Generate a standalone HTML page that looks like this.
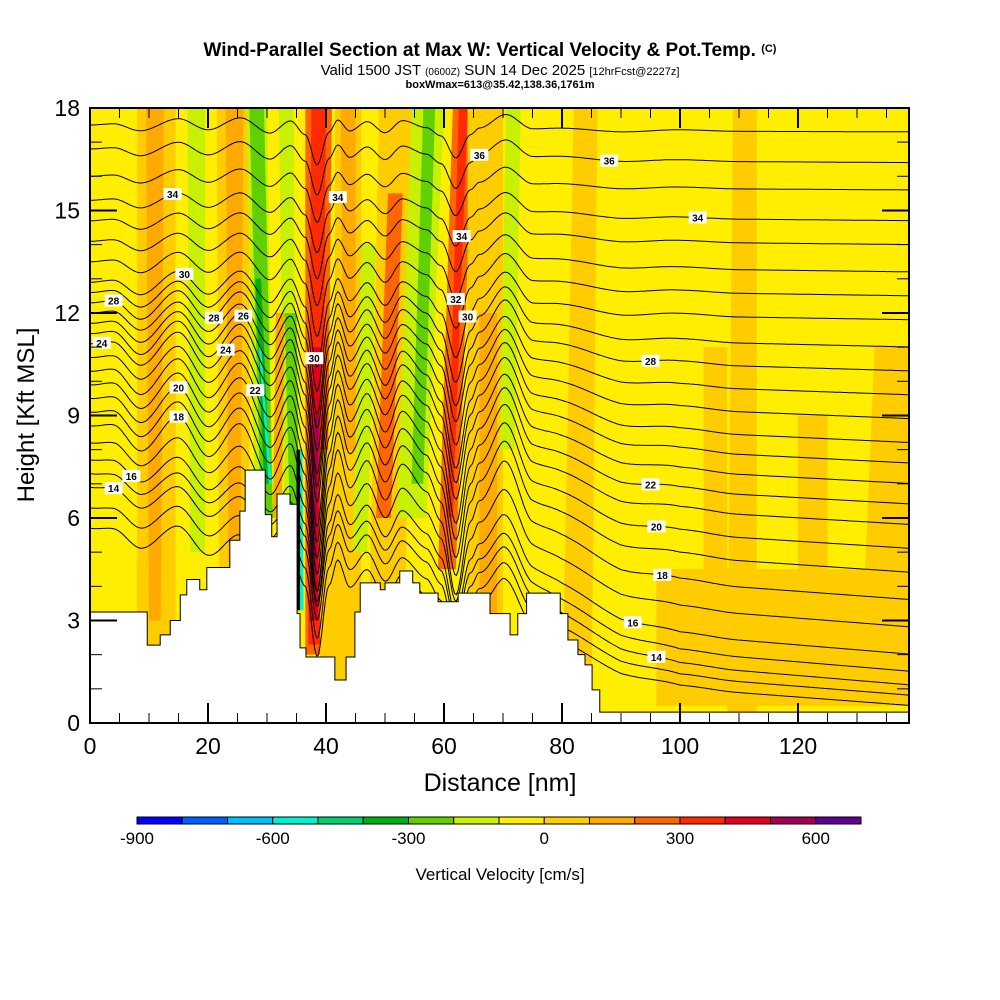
<!DOCTYPE html>
<html><head><meta charset="utf-8"><style>
body{margin:0;background:#fff;}
svg{display:block;font-family:"Liberation Sans",sans-serif;}
</style></head><body>
<svg id="chart" width="1000" height="1000" viewBox="0 0 1000 1000">
<rect width="1000" height="1000" fill="#fff"/>
<text x="490" y="56" text-anchor="middle" font-size="19" font-weight="bold">Wind-Parallel Section at Max W: Vertical Velocity &amp; Pot.Temp. <tspan font-size="11" dy="-4">(C)</tspan></text>
<text x="500" y="75" text-anchor="middle" font-size="15">Valid 1500 JST <tspan font-size="10">(0600Z)</tspan> SUN 14 Dec 2025 <tspan font-size="11">[12hrFcst@2227z]</tspan></text>
<text x="500" y="88" text-anchor="middle" font-size="11" font-weight="bold">boxWmax=613@35.42,138.36,1761m</text>
<defs><clipPath id="pc"><rect x="90" y="108" width="819" height="615"/></clipPath></defs>
<g id="plot" clip-path="url(#pc)">
<rect x="90" y="108" width="819" height="615" fill="#ffee00"/>
<g id="bands"></g><g id="contours"></g><g id="terrain"></g><g id="labels"></g>
</g>
<rect x="90" y="108" width="819" height="615" fill="none" stroke="#000" stroke-width="2"/>
<g id="axes"></g>
<text x="500" y="791" text-anchor="middle" font-size="25">Distance [nm]</text>
<text transform="translate(34,415) rotate(-90)" text-anchor="middle" font-size="24">Height [Kft MSL]</text>
<g id="cbar"></g>
<text x="500" y="880" text-anchor="middle" font-size="17">Vertical Velocity [cm/s]</text>
</svg>
<script>
// ---- data ----
const cbarColors=["#0000ff","#0060ff","#00c0ff","#00f0d0","#00d070","#00b010","#60d000","#c8f000","#ffee00","#ffcc00","#ffaa00","#ff6600","#ff2a00","#e00020","#a00050","#600090"];
const cbarTicks=[-900,-600,-300,0,300,600];
const xTicks=[0,20,40,60,80,100,120];
const yTicks=[0,3,6,9,12,15,18];
const terrX=[0,9.7,11.9,13.6,15.3,16.4,18.6,19.8,23.7,25.4,26.3,29.7,30.8,31.7,33.9,35.1,35.6,36.6,41.5,43.4,44.9,45.8,49.2,50,52.5,54.7,55.9,59,62.4,67.8,71.2,72.5,74,79.7,81,82.7,83.9,85.1,86.4,140];
const terrH=[3.25,2.28,2.58,3.0,3.75,4.2,3.9,4.55,5.35,6.2,7.4,6.1,5.45,6.7,6.4,3.2,2.2,1.93,1.26,1.93,3.25,4.1,3.9,4.1,4.45,4.1,3.8,3.55,3.8,3.2,2.58,3.2,3.8,3.2,2.43,2.0,1.7,0.97,0.32,0.32];
const bandX0t=[8,9.5,16.5,21.5,23,26.5,27,28,28.6,32,31.5,33,35,35.6,36.5,37.5,37.8,38,39,41.5,42.5,46,49,50.5,54.5,56.5,61.5,62.5,64,66,70.5,82,109,96,104,120,133];
const bandX1t=[14.5,12.5,19.5,27,26,30,29.5,29,29,34.5,33,35,35.6,36,41,40,39.2,38.8,44,46,45,48.5,55,53,60,58.5,65,64,70,69,73,86,113,139,108,125,139];
const bandX0b=[8,10,17,22,23.5,28,29,29.5,30.3,33,31,34,35,35.6,36.5,37,37.2,37.4,39,41.5,43,44.5,47,48.5,52,54.5,59,60.5,64,66,69.5,80,108,96,104,120,131];
const bandX1b=[14.5,12,19.5,27,25.5,31,31,30.5,30.8,35,32.5,35.5,35.6,36.2,40,39.2,38.6,38.1,44,46,45,47,53,51,57,56.5,62,61.5,70,69,72,85,113,139,108,125,139];
const bandBot=[0,3,5,0,4,6,6,7,7,5,6,5,3.3,3.3,2,2.3,3,4,0,0,8,5,0,6,6,7,4.5,6,0,3,8,0.3,0.3,0.5,4.5,4,3];
const bandTop=[18,18,18,18,18,18,18,13,11,18,12,12,8,8,18,18,11,9,8,18,18,14,18,15.5,18,18,18,18,18,12,18,18,18,4.5,11,9,11];
const bandVal=[50,150,-150,50,150,-150,-250,-350,-550,-150,150,-250,-1000,-550,250,350,450,550,50,50,150,-150,50,250,-150,-250,250,350,50,150,-150,50,50,50,50,50,50];
const levels=[12,13,14,15,16,17,18,19,20,21,22,23,24,25,26,27,28,29,30,31,32,33,34,35,36,37];
const leftH=[5.7,6.3,6.9,7.3,7.7,8.2,8.7,9.1,9.5,9.9,10.3,10.7,11.1,11.4,11.7,12.0,12.3,12.6,12.9,13.5,14.1,14.7,15.3,16.0,16.8,17.5];
const rightH=[0.5,0.8,1.1,1.5,2.0,2.8,3.6,4.4,5.1,5.8,6.4,7.0,7.6,8.2,8.9,9.6,10.3,11.0,11.8,12.5,13.2,14.0,14.7,15.6,16.4,17.3];
const ampL=[0.9,0.9,0.9,0.9,1.0,1.1,1.3,1.3,1.3,1.3,1.3,1.2,1.2,1.2,1.1,1.0,1.0,0.9,0.8,0.7,0.6,0.55,0.5,0.45,0.45,0.4];
const wNm=[0,20,40,60,70,80,90,100,140];
const wVal=[0,0.1,0.25,0.4,0.45,0.65,0.8,0.9,1];
const dNm=[0,4,8.5,15,20,25.5,30.5,34,36.5,38.5,40.5,42,44,47,50,53,57,59.5,62,64.5,66,70.5,75,80,90,100,110,140];
const dVal=[0,0.1,-0.4,0.5,-0.3,0.6,-0.5,0.4,-0.6,-2.8,-0.4,0.5,-0.3,0.4,-0.4,0.5,0,-0.6,-2.2,-0.5,0,1.0,0,0.1,-0.1,0.1,0,0];
const labNm=[14,16,4,2,21,26,15,15,7,4,23,28,38,42,62,64,63,66,88,92,96,97,96,95,95,103];
const labLev=[34,30,28,24,28,26,20,18,16,14,24,22,30,34,32,30,34,36,36,16,14,18,20,22,28,34];

// ---- scales ----
const X=n=>90+n*5.9, Y=k=>723-k*34.17;
const NS='http://www.w3.org/2000/svg';
function mk(t,a,p){const e=document.createElementNS(NS,t);for(const k in a)e.setAttribute(k,a[k]);p.appendChild(e);return e;}
function interp(xs,ys,x){if(x<=xs[0])return ys[0];for(let i=1;i<xs.length;i++){if(x<=xs[i]){const t=(x-xs[i-1])/(xs[i]-xs[i-1]);return ys[i-1]+t*(ys[i]-ys[i-1]);}}return ys[ys.length-1];}
function smooth(xs,ys,x){if(x<=xs[0])return ys[0];for(let i=1;i<xs.length;i++){if(x<=xs[i]){const t=(x-xs[i-1])/(xs[i]-xs[i-1]);const s=t*t*(3-2*t);return ys[i-1]+s*(ys[i]-ys[i-1]);}}return ys[ys.length-1];}
function colorOf(v){if(v<-900)return "#000";let i=Math.floor((v+900)/100);i=Math.max(0,Math.min(15,i));return cbarColors[i];}
function hOf(li,n){const w=interp(wNm,wVal,n);return leftH[li]*(1-w)+rightH[li]*w+ampL[li]*smooth(dNm,dVal,n);}

const gb=document.getElementById('bands');
bandVal.forEach((v,i)=>{
 const p=mk('polygon',{points:`${X(bandX0t[i])},${Y(bandTop[i])} ${X(bandX1t[i])},${Y(bandTop[i])} ${X(bandX1b[i])},${Y(bandBot[i])} ${X(bandX0b[i])},${Y(bandBot[i])}`,fill:colorOf(v)},gb);
 
 
});
const gc=document.getElementById('contours');
levels.forEach((L,li)=>{
 let pts=[];for(let n=0;n<=139;n+=0.3)pts.push(X(n).toFixed(1)+','+Y(hOf(li,n)).toFixed(1));
 const pl=mk('polyline',{points:pts.join(' '),fill:'none',stroke:'#000','stroke-width':1},gc);
 
 
});
const gt=document.getElementById('terrain');
let tp=[`${X(0)},730`];
for(let i=0;i<terrX.length-1;i++){tp.push(`${X(terrX[i])},${Y(terrH[i])}`);tp.push(`${X(terrX[i+1])},${Y(terrH[i])}`);}
tp.push(`${X(140)},730`);
const tr=mk('polygon',{points:tp.join(' '),fill:'#fff',stroke:'#000','stroke-width':1},gt);


const gl=document.getElementById('labels');
labNm.forEach((n,i)=>{
 const li=levels.indexOf(labLev[i]);const x=X(n),y=Y(hOf(li,n));
 const g=mk('g',{},gl);
 
 
 mk('rect',{x:x-9,y:y-6,width:18,height:12,fill:'#fff'},g);
 const t=mk('text',{x:x,y:y+4,'text-anchor':'middle','font-size':10,'font-weight':'bold'},g);t.textContent=labLev[i];
});
const ga=document.getElementById('axes');
for(let k=0;k<=18;k++){const y=Y(k),maj=k%3==0,l=maj?27:12;
 mk('line',{x1:90,y1:y,x2:90+l,y2:y,stroke:'#000','stroke-width':maj?2:1},ga);
 mk('line',{x1:909,y1:y,x2:909-l,y2:y,stroke:'#000','stroke-width':maj?2:1},ga);}
for(let n=0;n<=135;n+=5){const x=X(n),maj=n%20==0,l=maj?20:10;
 mk('line',{x1:x,y1:723,x2:x,y2:723-l,stroke:'#000','stroke-width':maj?2:1},ga);
 mk('line',{x1:x,y1:108,x2:x,y2:108+l,stroke:'#000','stroke-width':maj?2:1},ga);}
yTicks.forEach(k=>{const t=mk('text',{x:80,y:Y(k)+8,'text-anchor':'end','font-size':23},ga);t.textContent=k;
 
 });
xTicks.forEach(n=>{const t=mk('text',{x:X(n),y:754,'text-anchor':'middle','font-size':23},ga);t.textContent=n;
 
 });
const gcb=document.getElementById('cbar');
const cbX=v=>137+(v+900)*0.4525;
cbarColors.forEach((c,i)=>{const r=mk('rect',{x:cbX(-900+i*100),y:817,width:45.25,height:7,fill:c,stroke:'#000','stroke-width':1},gcb);
 
 });
cbarTicks.forEach(v=>{const t=mk('text',{x:cbX(v),y:844,'text-anchor':'middle','font-size':17},gcb);t.textContent=v;
 
 });
</script>
</body></html>
